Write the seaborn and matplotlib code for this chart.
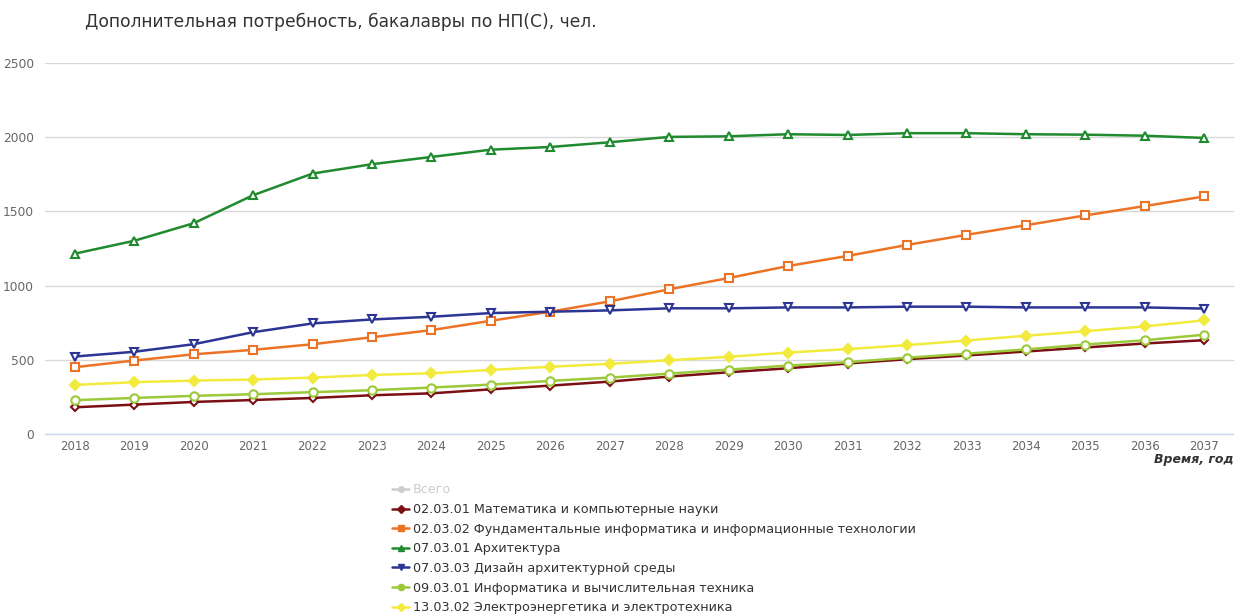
import matplotlib
matplotlib.use("Agg")
import matplotlib.pyplot as plt
from matplotlib.lines import Line2D
import seaborn as sns
import pandas as pd
import numpy as np

# --- data ---
years = list(range(2018, 2038))

math_cs = [180, 198, 216, 229, 243, 261, 274, 301, 326, 353,
           387, 416, 443, 475, 504, 529, 556, 583, 610, 632]
fund_inf = [450, 495, 537, 567, 605, 652, 700, 763, 824, 894,
            975, 1051, 1132, 1200, 1274, 1342, 1407, 1473, 1536, 1601]
architecture = [1215, 1302, 1420, 1609, 1755, 1818, 1867, 1916, 1934, 1966,
                2002, 2006, 2020, 2015, 2027, 2027, 2020, 2017, 2010, 1995]
arch_design = [522, 554, 605, 686, 745, 772, 790, 815, 824, 833,
               847, 847, 853, 853, 858, 858, 853, 853, 853, 845]
inf_vt = [228, 243, 257, 268, 282, 295, 313, 333, 358, 380,
          407, 434, 461, 484, 514, 541, 570, 603, 632, 669]
electro = [331, 349, 360, 367, 380, 398, 409, 432, 453, 473,
           497, 520, 549, 572, 599, 630, 662, 693, 725, 766]

series_names = [
    "02.03.01 Математика и компьютерные науки",
    "02.03.02 Фундаментальные информатика и информационные технологии",
    "07.03.01 Архитектура",
    "07.03.03 Дизайн архитектурной среды",
    "09.03.01 Информатика и вычислительная техника",
    "13.03.02 Электроэнергетика и электротехника",
]
series_values = [math_cs, fund_inf, architecture, arch_design, inf_vt, electro]
colors = ["#7b0f14", "#ec7326", "#1f8a2e", "#2c3494", "#9bc93a", "#f2ea3c"]
markers = ["D", "s", "^", "v", "o", "D"]
marker_sizes = [4, 6, 6, 6, 6, 5]
marker_faces = ["white", "white", "white", "white", "white", "#f2ea3c"]

df = pd.DataFrame({
    "year": np.tile(years, len(series_names)),
    "value": np.concatenate(series_values),
    "series": np.repeat(series_names, len(years)),
})

sns.set_theme(style="white")
plt.rcParams["font.family"] = ["DejaVu Sans"]

fig = plt.figure(figsize=(12.34, 6.14), dpi=100)
ax = fig.add_axes([45 / 1234, 1 - 434 / 614, 1 - 45 / 1234, (434 - 63) / 614])

for name, col, mk, ms, mf in zip(series_names, colors, markers, marker_sizes, marker_faces):
    sub = df[df["series"] == name]
    sns.lineplot(data=sub, x="year", y="value", ax=ax, color=col, linewidth=1.8,
                 marker=mk, markersize=ms, markerfacecolor=mf,
                 markeredgecolor=col, markeredgewidth=1.5, legend=False)

ax.set_xlim(2017.5, 2037.5)
ax.set_ylim(0, 2500)
ax.set_xticks(years)
ax.set_xticks(np.arange(2017.5, 2038, 1), minor=True)
ax.set_yticks([0, 500, 1000, 1500, 2000, 2500])
ax.yaxis.grid(True, color="#d8d8d8", linewidth=1)
ax.xaxis.grid(False)
for s in ["top", "right", "left"]:
    ax.spines[s].set_visible(False)
ax.spines["bottom"].set_color("#ccd6eb")
ax.spines["bottom"].set_linewidth(1)
ax.tick_params(axis="x", which="major", length=0, pad=4, labelsize=8.5, labelcolor="#666666")
ax.tick_params(axis="x", which="minor", length=5, color="#ccd6eb", width=1)
ax.tick_params(axis="y", length=0, pad=8, labelsize=8.8, labelcolor="#666666")
ax.set_xlabel("")
ax.set_ylabel("")

fig.text(85 / 1234, 1 - 22 / 614, "Дополнительная потребность, бакалавры по НП(С), чел.",
         fontsize=12.3, color="#333333", va="center", ha="left")
fig.text(1234 / 1234, 1 - 459 / 614, "Время, год", fontsize=9, fontweight="bold",
         fontstyle="italic", color="#333333", ha="right", va="center")

# legend
handles = [Line2D([0], [0], color="#cccccc", linewidth=1.8, marker="o", markersize=4)]
labels = ["Всего"]
for name, col, mk in zip(series_names, colors, markers):
    handles.append(Line2D([0], [0], color=col, linewidth=1.8, marker=mk, markersize=4.5,
                          markerfacecolor=col, markeredgecolor=col))
    labels.append(name)
leg = fig.legend(handles, labels, loc="upper left", bbox_to_anchor=(386 / 1234, 1 - 477 / 614),
                 frameon=False, fontsize=9.2, handlelength=1.3, handletextpad=0.3,
                 labelspacing=0.52, borderpad=0)
for i, t in enumerate(leg.get_texts()):
    t.set_color("#cccccc" if i == 0 else "#333333")

fig.savefig("out.png", dpi=100)
